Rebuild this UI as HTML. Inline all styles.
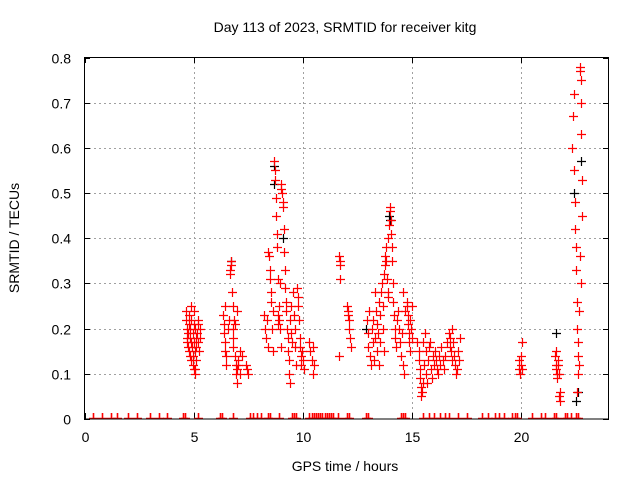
<!DOCTYPE html>
<html><head><meta charset="utf-8"><style>
body{margin:0;background:#fff}
svg text{font-family:"Liberation Sans",sans-serif;fill:#000}
</style></head><body>
<svg id="chart" width="640" height="480" xmlns="http://www.w3.org/2000/svg">
<defs><clipPath id="pc"><rect x="84" y="57" width="525" height="362"/></clipPath></defs>
<rect width="640" height="480" fill="#fff"/>
<g id="grid"></g>
<g id="ticks"></g>
<g id="marks" clip-path="url(#pc)"></g>
<rect x="84.5" y="57.5" width="524" height="361.5" fill="none" stroke="#000" stroke-width="1"/>
<text x="345" y="32" font-size="14" text-anchor="middle">Day 113 of 2023, SRMTID for receiver kitg</text>
<text x="345" y="471" font-size="14" text-anchor="middle">GPS time / hours</text>
<text transform="translate(19,238) rotate(-90)" font-size="14" text-anchor="middle">SRMTID / TECUs</text>
</svg>
<script>
const xTicks=[0,5,10,15,20];
const yTicks=[0,0.1,0.2,0.3,0.4,0.5,0.6,0.7,0.8];
const yTickLabels=["0","0.1","0.2","0.3","0.4","0.5","0.6","0.7","0.8"];
const redT=[4.65,4.65,4.68,4.7,4.7,4.72,4.75,4.78,4.8,4.8,4.82,4.85,4.85,4.88,4.9,4.9,4.92,4.95,4.95,4.98,5.0,5.0,5.02,5.05,5.05,5.08,5.1,5.1,5.12,5.15,5.18,5.2,5.22,5.25,5.28,5.3,5.0,4.9,5.06,
6.35,6.38,6.4,6.42,6.45,6.45,6.5,6.5,6.55,6.6,6.65,6.68,6.7,6.72,6.75,6.78,6.8,6.82,6.85,6.88,6.9,6.92,6.95,6.98,7.0,7.02,7.05,7.1,7.2,7.4,7.45,7.5,7.0,6.8,7.1,
8.2,8.25,8.3,8.35,8.4,8.42,8.45,8.48,8.5,8.55,8.55,8.6,8.62,8.65,8.7,8.72,8.74,8.76,8.78,8.8,8.82,8.85,8.85,8.88,8.9,8.92,8.95,8.95,8.98,9.0,9.02,9.05,9.07,9.1,9.12,9.15,9.18,9.2,9.22,9.25,9.28,9.3,9.32,9.35,9.38,9.4,9.42,9.45,9.48,9.5,9.55,9.6,9.62,9.65,9.7,9.75,9.78,9.8,9.82,9.85,9.88,9.9,9.92,9.95,10.0,10.05,10.3,10.35,10.4,10.45,10.5,10.48,
11.65,11.68,11.7,11.72,11.65,12.0,12.05,12.1,12.12,12.15,12.2,12.08,
12.95,13.0,13.0,13.05,13.08,13.1,13.15,13.2,13.22,13.25,13.3,13.35,13.38,13.4,13.45,13.5,13.52,13.55,13.6,13.62,13.65,13.68,13.7,13.72,13.75,13.78,13.8,13.82,13.85,13.88,13.9,13.92,13.95,13.98,14.0,14.02,14.05,14.08,14.1,14.12,14.15,14.18,14.2,14.22,14.25,14.3,14.35,14.4,14.45,14.5,14.55,14.6,14.65,14.7,14.75,14.78,14.8,14.82,14.85,14.88,14.9,14.92,14.95,15.0,15.0,14.6,13.3,13.5,
15.25,15.3,15.32,15.35,15.38,15.4,15.42,15.45,15.5,15.5,15.55,15.6,15.62,15.65,15.7,15.75,15.8,15.82,15.85,15.9,15.95,16.0,16.05,16.1,16.15,16.2,16.25,16.3,16.35,16.4,16.45,16.5,16.6,16.7,16.72,16.75,16.8,16.82,16.85,16.9,16.92,16.95,17.0,17.05,17.1,17.15,17.2,
19.9,19.92,19.95,19.98,20.0,20.02,20.05,
21.55,21.58,21.6,21.62,21.65,21.68,21.7,21.72,21.75,21.78,21.8,21.6,
22.35,22.38,22.4,22.42,22.45,22.47,22.5,22.52,22.55,22.57,22.6,22.62,22.65,22.68,22.7,22.72,22.74,22.76,22.78,22.8,22.7,22.72,22.65,22.6,22.58];
const redV=[.24,.22,.2,.18,.17,.16,.19,.23,.21,.15,.14,.2,.18,.13,.17,.22,.16,.14,.19,.12,.11,.21,.17,.11,.15,.2,.18,.13,.16,.19,.22,.21,.17,.15,.2,.18,.24,.25,.1,
.23,.21,.19,.17,.25,.15,.14,.12,.2,.22,.33,.32,.35,.34,.28,.18,.2,.16,.22,.21,.14,.12,.1,.08,.11,.13,.12,.15,.14,.12,.11,.1,.24,.25,.1,
.23,.2,.18,.22,.16,.37,.36,.33,.31,.28,.26,.2,.15,.24,.57,.55,.53,.49,.45,.41,.38,.31,.23,.21,.22,.25,.3,.2,.16,.52,.51,.5,.48,.47,.42,.37,.33,.29,.26,.24,.2,.18,.15,.13,.1,.08,.22,.25,.19,.17,.28,.23,.2,.16,.12,.29,.27,.25,.22,.18,.16,.14,.12,.15,.13,.11,.17,.15,.13,.1,.12,.16,
.36,.35,.34,.31,.14,.25,.23,.22,.2,.18,.16,.24,
.22,.19,.16,.24,.14,.12,.2,.22,.17,.13,.18,.24,.21,.15,.19,.26,.23,.17,.28,.3,.25,.2,.15,.32,.34,.36,.38,.35,.31,.28,.27,.4,.43,.46,.47,.44,.41,.38,.35,.3,.26,.23,.2,.18,.16,.22,.24,.2,.17,.14,.19,.12,.1,.24,.26,.25,.23,.21,.19,.17,.15,.22,.2,.18,.25,.28,.28,.12,
.17,.15,.13,.11,.09,.07,.05,.06,.08,.17,.12,.19,.15,.1,.08,.13,.16,.17,.11,.09,.14,.12,.15,.13,.11,.1,.14,.12,.16,.13,.11,.14,.17,.19,.18,.16,.15,.13,.2,.17,.14,.12,.1,.11,.15,.13,.18,
.13,.11,.1,.12,.14,.17,.11,
.14,.12,.11,.1,.09,.13,.12,.1,.05,.04,.06,.15,
.6,.67,.72,.55,.48,.42,.38,.33,.26,.2,.17,.14,.12,.78,.77,.75,.7,.63,.53,.45,.36,.3,.24,.1,.06];
const blackT=[6.7,8.7,8.7,9.1,12.9,13.95,14.0,21.6,22.4,22.75,22.5,22.6];
const blackV=[.35,.56,.52,.4,.2,.45,.44,.19,.5,.57,.04,.06];
const zeroT=[0.4,0.8,1.2,1.5,2.0,2.4,3.0,3.4,3.8,4.5,4.6,5.2,6.2,6.3,6.8,7.6,7.7,7.9,8.1,8.4,8.5,8.9,9.5,9.6,9.7,10.3,10.4,10.5,10.6,10.7,10.8,10.9,11.0,11.1,11.2,11.3,11.4,11.6,12.0,12.1,12.9,13.0,14.5,14.6,14.7,15.5,15.8,16.0,16.3,16.5,16.7,17.1,17.5,18.2,18.5,18.8,19.0,19.2,19.6,19.7,19.8,20.5,20.9,21.1,21.5,21.6,22.0,22.1,22.3,22.5,22.6];
const NS="http://www.w3.org/2000/svg";
function xs(t){return 84.5+t*(524/24);}
function ys(v){return 419-v*(361.5/0.8);}
function mk(tag,a,p){const e=document.createElementNS(NS,tag);for(const k in a)e.setAttribute(k,a[k]);p.appendChild(e);return e;}
const grid=document.getElementById('grid'),ticks=document.getElementById('ticks'),marks=document.getElementById('marks');
xTicks.forEach((t,i)=>{const x=Math.round(xs(t))+0.5;
 if(t>0){const g=mk('line',{x1:x,x2:x,y1:57,y2:419,stroke:'#a0a0a0','stroke-dasharray':'2,3'},grid);
 
 }
 mk('line',{x1:x,x2:x,y1:419,y2:413,stroke:'#000'},ticks);mk('line',{x1:x,x2:x,y1:57,y2:63,stroke:'#000'},ticks);
 const l=mk('text',{x:x,y:442,'font-size':14,'text-anchor':'middle'},ticks);l.textContent=String(t);
 
 });
yTicks.forEach((v,i)=>{const y=Math.round(ys(v))+0.5;
 if(v>0&&v<0.8){const g=mk('line',{x1:84,x2:609,y1:y,y2:y,stroke:'#a0a0a0','stroke-dasharray':'2,3'},grid);
 
 }
 mk('line',{x1:84,x2:90,y1:y,y2:y,stroke:'#000'},ticks);mk('line',{x1:603,x2:609,y1:y,y2:y,stroke:'#000'},ticks);
 const l=mk('text',{x:71,y:y+5,'font-size':14,'text-anchor':'end'},ticks);l.textContent=yTickLabels[i];
 
 });
function plus(t,v,c,name){const x=Math.round(xs(t))+0.5,y=Math.round(ys(v))+0.5;
 const p=mk('path',{d:`M${x-4.5},${y}H${x+4.5}M${x},${y-4.5}V${y+4.5}`,stroke:c,'stroke-width':1.2,fill:'none'},marks);
 
 }
function zeroMark(t){const x=Math.round(xs(t))+0.5;
 const p=mk('path',{d:`M${x},${ys(0)-6}V${ys(0)}M${x-4.5},${ys(0)-0.5}H${x+4.5}`,stroke:'#ff0000','stroke-width':1.6,fill:'none'},marks);
 
 }
blackT.forEach((t,i)=>plus(t,blackV[i],'#000','point-black'));
redT.forEach((t,i)=>plus(t,redV[i],'#ff0000','point-red'));
zeroT.forEach(t=>zeroMark(t));
</script>
</body></html>
